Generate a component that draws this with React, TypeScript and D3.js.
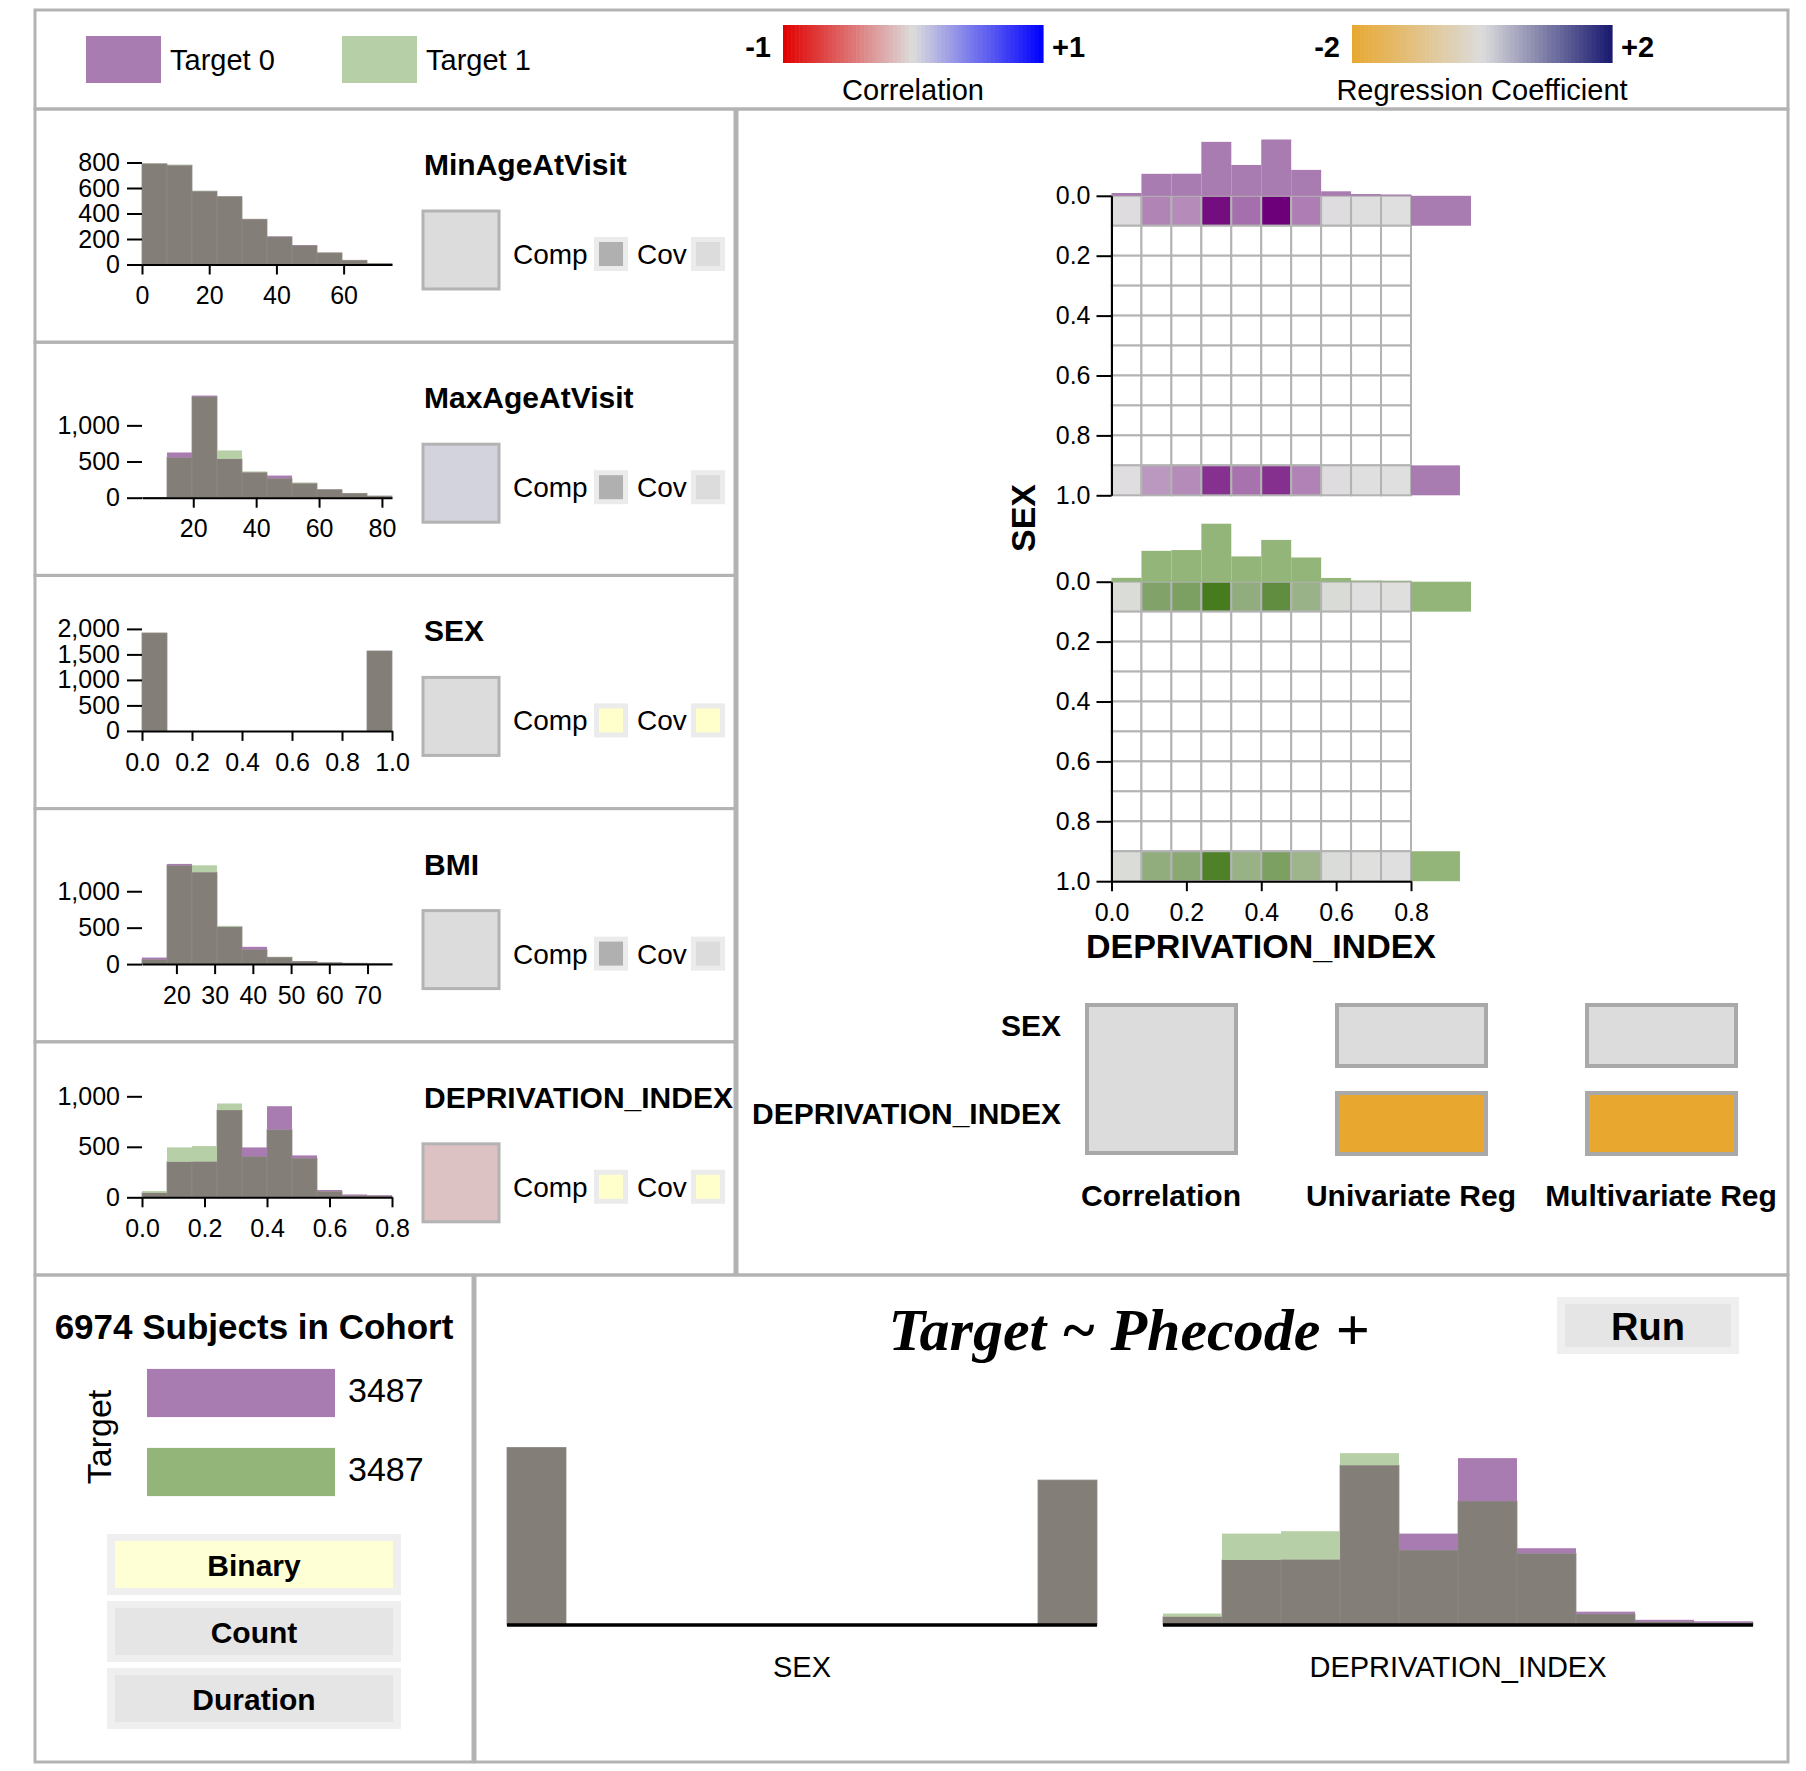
import React, { useEffect, useRef } from 'react';
import * as d3 from 'd3';

const WIDTH = 1806;
const HEIGHT = 1771;
const FONT = "'Liberation Sans', Arial, Helvetica, sans-serif";
const SERIF = "'Liberation Serif', 'Times New Roman', serif";

// ---- data ----
const targets = ['Target 0', 'Target 1'];
const targetCounts = [3487, 3487];
const cohortSize = 6974;

const covariates = ['MinAgeAtVisit', 'MaxAgeAtVisit', 'SEX', 'BMI', 'DEPRIVATION_INDEX'];
const covariateRanges: [number, number][] = [[0, 74.4], [3.7, 83.2], [0, 1], [11, 76.4], [0, 0.8]];
const covariateXTicks = [[0, 20, 40, 60], [20, 40, 60, 80], [0, 0.2, 0.4, 0.6, 0.8, 1], [20, 30, 40, 50, 60, 70], [0, 0.2, 0.4, 0.6, 0.8]];
const covariateYTicks = [[0, 200, 400, 600, 800], [0, 500, 1000], [0, 500, 1000, 1500, 2000], [0, 500, 1000], [0, 500, 1000]];
const covariateYMax = [800, 1410, 2000, 1400, 1010];
const covariateCorr = [0, 0.04, 0, 0, -0.12];
const compSelected = [false, false, true, false, true];
const covSelected = [false, false, true, false, true];

const minAgeT0 = [790, 779, 575, 533, 356, 220, 152, 92, 34, 8];
const minAgeT1 = [792, 781, 576, 532, 355, 216, 149, 91, 33, 8];
const maxAgeT0 = [3, 625, 1412, 537, 352, 306, 200, 111, 60, 23];
const maxAgeT1 = [3, 556, 1398, 653, 361, 269, 208, 111, 60, 23];
const sexT0 = [1920, 0, 0, 0, 0, 0, 0, 0, 0, 1567];
const sexT1 = [1920, 0, 0, 0, 0, 0, 0, 0, 0, 1567];
const bmiT0 = [90, 1375, 1262, 512, 237, 94, 37, 19, 12, 6];
const bmiT1 = [65, 1356, 1356, 525, 200, 94, 37, 19, 12, 6];
const depT0 = [45, 352, 354, 864, 494, 902, 415, 72, 28, 20];
const depT1 = [62, 494, 507, 929, 405, 670, 388, 60, 18, 13];

// joint SEX x DEPRIVATION_INDEX counts (rows SEX 0.0 and 1.0, others empty)
const heatT0Sex0 = [8, 205, 190, 470, 255, 500, 220, 10, 4, 3];
const heatT0Sex1 = [6, 160, 190, 390, 245, 395, 210, 8, 3, 2];
const heatT1Sex0 = [20, 316, 332, 510, 260, 423, 235, 26, 5, 4];
const heatT1Sex1 = [20, 260, 286, 485, 240, 332, 220, 22, 4, 3];
const emptyRow = [0, 0, 0, 0, 0, 0, 0, 0, 0, 0];

const regressionVars = ['SEX', 'DEPRIVATION_INDEX'];
const pairCorrelation = 0;
const univariateCoef = [0, -2];
const multivariateCoef = [0, -2];
const outcomeTypes = ['Binary', 'Count', 'Duration'];
const selectedOutcome = 'Binary';

const C = {
  frame: '#b3b3b3',
  overlap: '#837e77',
  purple: '#a97cb1',
  greenLight: '#b7cfa7',
  green: '#93b57a',
  purpleDark: '#6d007a',
  greenDark: '#467c1e',
  neutral: '#dcdcdc',
  yellow: '#ffffcc',
};

const corrColor = d3.scaleLinear<string>().domain([-1, 0, 1]).range(['#e00000', '#dcdcdc', '#0000ff']);
const regColor = d3.scaleLinear<string>().domain([-2, 0, 2]).range(['#e8a830', '#dcdcdc', '#191970']);

const PANEL_H = 233.2;

const App: React.FC = () => {
  const svgRef = useRef<SVGSVGElement>(null);

  useEffect(() => {
    if (!svgRef.current) return;
    const svg = d3.select(svgRef.current);
    svg.selectAll('*').remove();
    svg.append('rect').attr('width', WIDTH).attr('height', HEIGHT).attr('fill', '#fff');

    const label = (parent: any, x: number, y: number, s: string, size: number, weight = 'normal', anchor = 'start') =>
      parent.append('text').attr('x', x).attr('y', y)
        .attr('font-family', FONT).attr('font-size', size).attr('font-weight', weight)
        .attr('text-anchor', anchor).attr('fill', '#000').text(s);

    const styleAxis = (ax: any, size: number) => {
      ax.attr('font-family', FONT).attr('font-size', size);
      ax.selectAll('line').attr('stroke', '#000').attr('stroke-width', 2);
      ax.selectAll('path').attr('stroke', '#000').attr('stroke-width', 2);
      ax.selectAll('text').attr('fill', '#000');
    };

    const drawOverlap = (g: any, t0: number[], t1: number[], x: any, y: any, lo: number, hi: number) => {
      const w = (hi - lo) / t0.length;
      const bins = t0.map((a, i) => ({ x0: lo + i * w, x1: lo + (i + 1) * w, a, b: t1[i] }));
      g.selectAll(null).data(bins).enter().append('rect')
        .attr('x', (d: any) => x(d.x0)).attr('width', (d: any) => x(d.x1) - x(d.x0))
        .attr('y', (d: any) => y(Math.min(d.a, d.b)))
        .attr('height', (d: any) => y(0) - y(Math.min(d.a, d.b)))
        .attr('fill', C.overlap).attr('stroke', '#8e8983').attr('stroke-width', 0.8);
      g.selectAll(null).data(bins.filter(d => d.a !== d.b)).enter().append('rect')
        .attr('x', (d: any) => x(d.x0)).attr('width', (d: any) => x(d.x1) - x(d.x0))
        .attr('y', (d: any) => y(Math.max(d.a, d.b)))
        .attr('height', (d: any) => y(Math.min(d.a, d.b)) - y(Math.max(d.a, d.b)))
        .attr('fill', (d: any) => (d.a > d.b ? C.purple : C.greenLight));
    };

    // ---- header legend ----
    const header = svg.append('g');
    targets.forEach((t, i) => {
      const sx = [86, 342][i];
      header.append('rect').attr('x', sx).attr('y', 36).attr('width', 75).attr('height', 47)
        .attr('fill', i === 0 ? C.purple : C.greenLight);
      label(header, sx + 84, 70, t, 29);
    });

    const gradient = (color: any, domain: [number, number], x0: number, x1: number, lo: string, hi: string, title: string) => {
      const gx = d3.scaleLinear().domain(domain).range([x0, x1]);
      const n = 64;
      const step = (domain[1] - domain[0]) / n;
      const stops = d3.range(n).map(k => domain[0] + k * step);
      header.selectAll(null).data(stops).enter().append('rect')
        .attr('x', d => gx(d)).attr('y', 25)
        .attr('width', (x1 - x0) / n + 0.6).attr('height', 38)
        .attr('fill', d => color(d + step / 2));
      label(header, x0 - 12, 57, lo, 29, 'bold', 'end');
      label(header, x1 + 9, 57, hi, 29, 'bold');
      label(header, (x0 + x1) / 2, 100, title, 29, 'normal', 'middle');
    };
    gradient(corrColor, [-1, 1], 783, 1043, '-1', '+1', 'Correlation');
    gradient(regColor, [-2, 2], 1352, 1612, '-2', '+2', 'Regression Coefficient');

    // ---- covariate panels ----
    const histSeries = [[minAgeT0, minAgeT1], [maxAgeT0, maxAgeT1], [sexT0, sexT1], [bmiT0, bmiT1], [depT0, depT1]];
    const swatch = (g: any, x: number, y: number, fill: string) => {
      g.append('rect').attr('x', x).attr('y', y).attr('width', 34).attr('height', 34).attr('fill', '#ebebeb');
      g.append('rect').attr('x', x + 5).attr('y', y + 5).attr('width', 24).attr('height', 24).attr('fill', fill);
    };

    covariates.forEach((name, i) => {
      const top = 109 + i * PANEL_H;
      const base = top + 155.5;
      const g = svg.append('g');
      const [t0, t1] = histSeries[i];
      const [lo, hi] = covariateRanges[i];
      const x = d3.scaleLinear().domain([lo, hi]).range([142, 392]);
      const y = d3.scaleLinear().domain([0, covariateYMax[i]]).range([base, base - 102]);
      drawOverlap(g, t0, t1, x, y, lo, hi);

      const fmt = hi <= 1 ? d3.format('.1f') : d3.format('d');
      const ax = g.append('g').attr('transform', `translate(0,${base})`)
        .call(d3.axisBottom(x).tickValues(covariateXTicks[i]).tickFormat(fmt as any).tickSize(10).tickSizeOuter(0).tickPadding(12));
      styleAxis(ax, 25);
      const ay = g.append('g').attr('transform', 'translate(142,0)')
        .call(d3.axisLeft(y).tickValues(covariateYTicks[i]).tickFormat(d3.format(',') as any).tickSize(15).tickPadding(7));
      ay.select('.domain').remove();
      styleAxis(ay, 25);

      label(g, 424, top + 66, name, 30, 'bold');
      g.append('rect').attr('x', 423).attr('y', top + 102).attr('width', 76).attr('height', 78)
        .attr('fill', corrColor(covariateCorr[i])).attr('stroke', C.frame).attr('stroke-width', 3);
      label(g, 513, top + 155, 'Comp', 28);
      swatch(g, 594, top + 128, compSelected[i] ? C.yellow : '#b0b0b0');
      label(g, 637, top + 155, 'Cov', 28);
      swatch(g, 691, top + 128, covSelected[i] ? C.yellow : C.neutral);
    });

    // ---- joint heatmaps ----
    const right = svg.append('g');
    const hx = d3.scaleLinear().domain([0, 0.8]).range([1111.5, 1411]);
    const heatmaps = [
      { rows: [heatT0Sex0, emptyRow, emptyRow, emptyRow, emptyRow, emptyRow, emptyRow, emptyRow, emptyRow, heatT0Sex1], dep: depT0, sex: sexT0, bar: C.purple, dark: C.purpleDark, top: 195.8 },
      { rows: [heatT1Sex0, emptyRow, emptyRow, emptyRow, emptyRow, emptyRow, emptyRow, emptyRow, emptyRow, heatT1Sex1], dep: depT1, sex: sexT1, bar: C.green, dark: C.greenDark, top: 581.7 },
    ];
    const topMargin = d3.scaleLinear().domain([0, d3.max([...depT0, ...depT1]) as number]).range([0, 58]);
    const rightMargin = d3.scaleLinear().domain([0, d3.max([...sexT0, ...sexT1]) as number]).range([0, 60]);

    heatmaps.forEach((hm, k) => {
      const hy = d3.scaleLinear().domain([0, 1]).range([hm.top, hm.top + 299.5]);
      const all = hm.rows.flat();
      const color = d3.scaleLinear<string>().domain([0, d3.max(all) as number]).range(['#e0e0e0', hm.dark]);
      const cells = hm.rows.flatMap((row, r) => row.map((v, c) => ({ r, c, v })));
      right.selectAll(null).data(cells).enter().append('rect')
        .attr('x', d => hx(d.c * 0.08)).attr('y', d => hy(d.r * 0.1))
        .attr('width', d => hx((d.c + 1) * 0.08) - hx(d.c * 0.08))
        .attr('height', d => hy((d.r + 1) * 0.1) - hy(d.r * 0.1))
        .attr('fill', d => (d.v > 0 ? color(d.v) : '#fff'))
        .attr('stroke', C.frame).attr('stroke-width', 2);

      // top marginal: DEPRIVATION_INDEX
      right.selectAll(null).data(hm.dep.map((v, c) => ({ v, c }))).enter().append('rect')
        .attr('x', d => hx(d.c * 0.08)).attr('width', d => hx((d.c + 1) * 0.08) - hx(d.c * 0.08))
        .attr('y', d => hy(0) - topMargin(d.v)).attr('height', d => topMargin(d.v))
        .attr('fill', hm.bar);
      // right marginal: SEX
      right.selectAll(null).data(hm.sex.map((v, r) => ({ v, r })).filter(d => d.v > 0)).enter().append('rect')
        .attr('x', hx(0.8)).attr('width', d => rightMargin(d.v))
        .attr('y', d => hy(d.r * 0.1)).attr('height', d => hy((d.r + 1) * 0.1) - hy(d.r * 0.1))
        .attr('fill', hm.bar);

      const ay = right.append('g').attr('transform', `translate(${hx(0)},0)`)
        .call(d3.axisLeft(hy).tickValues([0, 0.2, 0.4, 0.6, 0.8, 1]).tickFormat(d3.format('.1f') as any).tickSize(15).tickSizeOuter(0).tickPadding(6));
      styleAxis(ay, 25);
      if (k === 1) {
        const ax = right.append('g').attr('transform', `translate(0,${hy(1)})`)
          .call(d3.axisBottom(hx).tickValues([0, 0.2, 0.4, 0.6, 0.8]).tickFormat(d3.format('.1f') as any).tickSize(10).tickSizeOuter(0).tickPadding(12));
        styleAxis(ax, 25);
      }
    });
    label(right, 1261, 958, 'DEPRIVATION_INDEX', 34, 'bold', 'middle');
    right.append('text').attr('transform', 'translate(1023,518) rotate(-90)')
      .attr('font-family', FONT).attr('font-size', 34).attr('font-weight', 'bold')
      .attr('text-anchor', 'middle').attr('dominant-baseline', 'central').text('SEX');

    // ---- correlation / regression boxes ----
    const rowY = [1003, 1091];
    regressionVars.forEach((v, i) => {
      label(right, 1061, rowY[i] + 33, v, 30, 'bold', 'end');
      right.append('rect').attr('x', 1337).attr('y', rowY[i] + 2).attr('width', 149).attr('height', 61)
        .attr('fill', regColor(univariateCoef[i])).attr('stroke', '#a9a9a9').attr('stroke-width', 4);
      right.append('rect').attr('x', 1587).attr('y', rowY[i] + 2).attr('width', 149).attr('height', 61)
        .attr('fill', regColor(multivariateCoef[i])).attr('stroke', '#a9a9a9').attr('stroke-width', 4);
    });
    right.append('rect').attr('x', 1087).attr('y', 1005).attr('width', 149).attr('height', 148)
      .attr('fill', corrColor(pairCorrelation)).attr('stroke', '#a9a9a9').attr('stroke-width', 4);
    label(right, 1161, 1206, 'Correlation', 30, 'bold', 'middle');
    label(right, 1411, 1206, 'Univariate Reg', 30, 'bold', 'middle');
    label(right, 1661, 1206, 'Multivariate Reg', 30, 'bold', 'middle');

    // ---- cohort summary ----
    const bl = svg.append('g');
    label(bl, 254, 1339, `${cohortSize} Subjects in Cohort`, 35, 'bold', 'middle');
    bl.append('text').attr('transform', 'translate(99,1437) rotate(-90)')
      .attr('font-family', FONT).attr('font-size', 34).attr('text-anchor', 'middle')
      .attr('dominant-baseline', 'central').text('Target');
    const by = d3.scaleBand().domain(targets).range([1353.5, 1511.5]).paddingInner(0.39).paddingOuter(0.195);
    const bx = d3.scaleLinear().domain([0, d3.max(targetCounts) as number]).range([147, 335]);
    targets.forEach((t, i) => {
      bl.append('rect').attr('x', bx(0)).attr('y', by(t) as number)
        .attr('width', bx(targetCounts[i]) - bx(0)).attr('height', by.bandwidth())
        .attr('fill', i === 0 ? C.purple : C.green);
      label(bl, bx(targetCounts[i]) + 13, (by(t) as number) + by.bandwidth() / 2 + 9, String(targetCounts[i]), 34);
    });
    outcomeTypes.forEach((t, i) => {
      const y0 = 1534 + i * 67;
      bl.append('rect').attr('x', 107).attr('y', y0).attr('width', 294).attr('height', 61).attr('fill', '#efefef');
      bl.append('rect').attr('x', 115).attr('y', y0 + 7).attr('width', 278).attr('height', 47)
        .attr('fill', t === selectedOutcome ? '#ffffd6' : '#e5e5e5');
      label(bl, 254, y0 + 42, t, 30, 'bold', 'middle');
    });

    // ---- model formula + selected covariates ----
    const br = svg.append('g');
    br.append('text').attr('x', 1129).attr('y', 1350).attr('text-anchor', 'middle')
      .attr('font-family', SERIF).attr('font-size', 60).attr('font-weight', 'bold').attr('font-style', 'italic')
      .text('Target ~ Phecode +');
    br.append('rect').attr('x', 1557).attr('y', 1297).attr('width', 182).attr('height', 57).attr('fill', '#efefef');
    br.append('rect').attr('x', 1565).attr('y', 1304).attr('width', 166).attr('height', 43).attr('fill', '#e5e5e5');
    label(br, 1648, 1340, 'Run', 38, 'bold', 'middle');

    const bottomCharts = [
      { name: 'SEX', t0: sexT0, t1: sexT1, range: [0, 1] as [number, number], x0: 507, x1: 1097 },
      { name: 'DEPRIVATION_INDEX', t0: depT0, t1: depT1, range: [0, 0.8] as [number, number], x0: 1163, x1: 1753 },
    ];
    bottomCharts.forEach(ch => {
      const x = d3.scaleLinear().domain(ch.range).range([ch.x0, ch.x1]);
      const y = d3.scaleLinear().domain([0, d3.max([...ch.t0, ...ch.t1]) as number]).nice().range([1625, 1440]);
      drawOverlap(br, ch.t0, ch.t1, x, y, ch.range[0], ch.range[1]);
      br.append('line').attr('x1', ch.x0).attr('x2', ch.x1).attr('y1', 1625).attr('y2', 1625)
        .attr('stroke', '#000').attr('stroke-width', 3.5);
      label(br, (ch.x0 + ch.x1) / 2, 1677, ch.name, 29, 'normal', 'middle');
    });

    // ---- panel frames ----
    const frames: number[][] = [
      [35, 10, 1788, 109],
      ...covariates.map((_, i) => [35, 109 + i * PANEL_H, 735, 109 + (i + 1) * PANEL_H]),
      [737, 109, 1788, 1275],
      [35, 1275, 473, 1762],
      [475, 1275, 1788, 1762],
    ];
    svg.append('g').selectAll(null).data(frames).enter().append('rect')
      .attr('x', d => d[0]).attr('y', d => d[1])
      .attr('width', d => d[2] - d[0]).attr('height', d => d[3] - d[1])
      .attr('fill', 'none').attr('stroke', C.frame).attr('stroke-width', 3);
  }, []);

  return (
    <div style={{ position: 'absolute', left: 0, top: 0 }}>
      <svg ref={svgRef} width={WIDTH} height={HEIGHT} viewBox={`0 0 ${WIDTH} ${HEIGHT}`} style={{ display: 'block' }} />
    </div>
  );
};

export default App;
